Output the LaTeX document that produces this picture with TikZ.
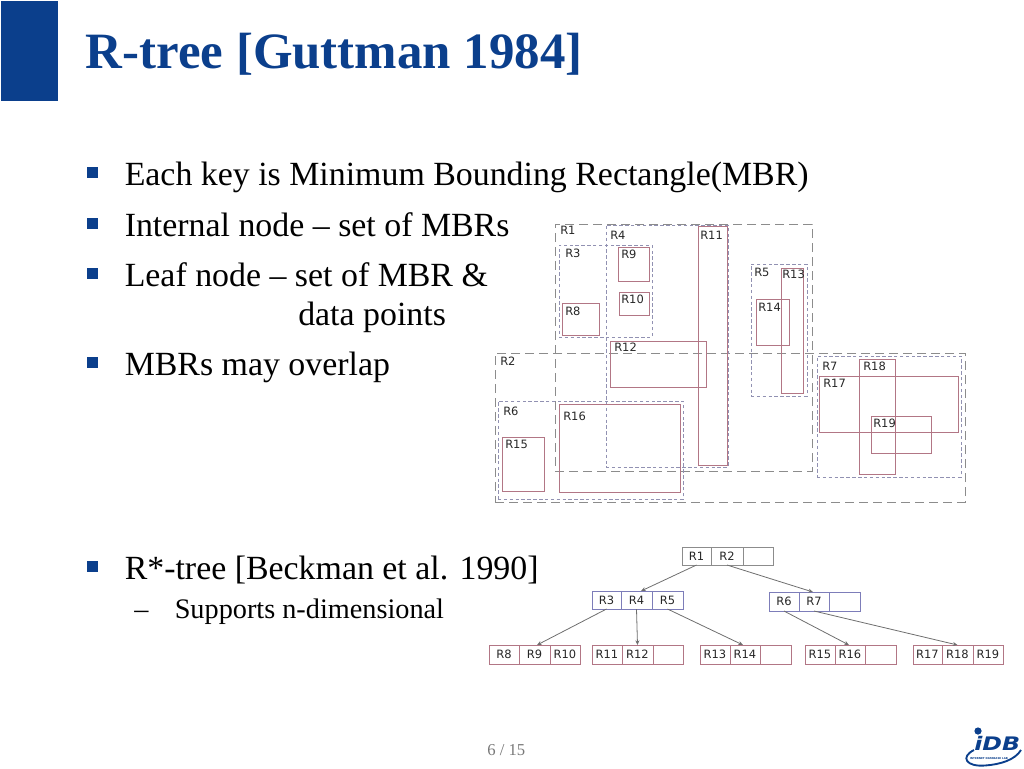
\documentclass[tikz,border=0pt]{standalone}
\usepackage{fontspec}
\setmainfont{Liberation Serif}
\newfontfamily\dvfont{DejaVu Sans}
\definecolor{idbblue}{RGB}{11,63,140}
\definecolor{greyline}{RGB}{140,140,140}
\definecolor{violetline}{RGB}{145,145,178}
\definecolor{redline}{RGB}{178,118,133}
\definecolor{blueline}{RGB}{125,125,185}
\definecolor{arrowgrey}{RGB}{110,110,110}
\definecolor{pagegrey}{RGB}{120,120,120}
\tikzset{
  titletext/.style={anchor=base west,inner sep=0pt,text=idbblue,font=\fontsize{38.2pt}{42pt}\selectfont\bfseries},
  bodytext/.style={anchor=base west,inner sep=0pt,font=\fontsize{25.4pt}{29pt}\selectfont},
  subtext/.style={anchor=base west,inner sep=0pt,font=\fontsize{21.2pt}{25pt}\selectfont},
  bulletmark/.style={fill=idbblue,draw=none,inner sep=0pt,minimum size=7.8pt},
  dashlong/.style={draw=greyline,line width=0.75pt,dash pattern=on 6.5pt off 4pt},
  dashshort/.style={draw=violetline,line width=0.75pt,dash pattern=on 2.6pt off 1.8pt},
  redbox/.style={draw=redline,line width=0.75pt},
  rlabel/.style={anchor=west,inner sep=0pt,font=\dvfont\fontsize{8.6pt}{10pt}\selectfont,text=black!85},
  rootcell/.style={draw=greyline,line width=0.75pt},
  midcell/.style={draw=blueline,line width=0.75pt},
  leafcell/.style={draw=redline,line width=0.75pt},
  treearrow/.style={draw=arrowgrey,line width=0.6pt,-{Stealth[length=3.5pt,width=3pt]}},
}
\usetikzlibrary{arrows.meta}
\begin{document}
\begin{tikzpicture}[x=0.75pt,y=-0.75pt]
\useasboundingbox (0,0) rectangle (1024,768);
% header
\node[fill=idbblue,draw=none,inner sep=0pt,outer sep=0pt,anchor=north west,minimum width=42.75pt,minimum height=75pt] (bar) at (1,1) {};
\node[titletext] (title) at (85.5,68) {R-tree [Guttman 1984]};
% bullets
\foreach \n/\y/\t in {a/185/{Each key is Minimum Bounding Rectangle(MBR)},b/236/{Internal node -- set of MBRs},c/286/{Leaf node -- set of MBR \&},e/375/{MBRs may overlap},f/579/{R*-tree [Beckman et al. 1990]}}{
  \node[bulletmark] (bul\n) at (92.5,\y-12.5) {};
  \node[bodytext] (txt\n) at (124.5,\y) {\t};
}
\node[bodytext] (txtd) at (298,325) {data points};
\node[subtext] (dash) at (134,618) {--};
\node[subtext] (txtg) at (174.5,618) {Supports n-dimensional};
% rectangles
\foreach \n/\s/\xa/\ya/\xb/\yb/\lx/\ly in {
  R1/dashlong/555/224/812/471/560/230,
  R2/dashlong/495/353/965/502/500/361,
  R3/dashshort/559/245/652/337/565/253,
  R4/dashshort/606/225/728/467/610/235,
  R5/dashshort/751/264/807/396/754/272,
  R6/dashshort/498/401/683/499/503/411,
  R7/dashshort/817/356/961/477/822/366,
  R8/redbox/562/303/599/335/565/311,
  R9/redbox/618/247/649/281/621/254,
  R10/redbox/619/292/649/315/621/299,
  R11/redbox/698/226/727/465/700/235,
  R12/redbox/610/341/706/387/614/347,
  R13/redbox/781/268/803/393/782/274,
  R14/redbox/756/299/789/345/758/307,
  R15/redbox/502/437/544/491/505/444,
  R16/redbox/559/404/680/492/563/416,
  R17/redbox/819/376/958/432/823/383,
  R18/redbox/859/359/895/474/863/366,
  R19/redbox/871/416/931/453/873/423}{
  \node[\s,inner sep=0pt,outer sep=0pt,anchor=north west,
        minimum width={(\xb-\xa)*0.75pt},minimum height={(\yb-\ya)*0.75pt}] (\n) at (\xa,\ya) {};
  \node[rlabel] (l\n) at (\lx,\ly) {\n};
}
% tree cells
\foreach \n/\s/\xa/\xb/\ya/\yb/\t in {
  R1/rootcell/682/711/547/565/R1, R2/rootcell/711/743/547/565/R2, ea/rootcell/743/773/547/565/,
  R3/midcell/592/621/591/609/R3, R4/midcell/621/652/591/609/R4, R5/midcell/652/683/591/609/R5,
  R6/midcell/769/799/592/611/R6, R7/midcell/799/829/592/611/R7, eb/midcell/829/860/592/611/,
  R8/leafcell/489/519/645/664/R8, R9/leafcell/519/550/645/664/R9, R10/leafcell/550/580/645/664/R10,
  R11/leafcell/592/622/645/664/R11, R12/leafcell/622/653/645/664/R12, ec/leafcell/653/683/645/664/,
  R13/leafcell/700/730/645/664/R13, R14/leafcell/730/760/645/664/R14, ed/leafcell/760/791/645/664/,
  R15/leafcell/805/835/645/664/R15, R16/leafcell/835/865/645/664/R16, ee/leafcell/865/896/645/664/,
  R17/leafcell/913/942/645/664/R17, R18/leafcell/942/973/645/664/R18, R19/leafcell/973/1003/645/664/R19}{
  \node[\s,inner sep=0pt,outer sep=0pt,anchor=north west,font=\dvfont\fontsize{8.6pt}{10pt}\selectfont,text=black!85,
        minimum width={(\xb-\xa)*0.75pt},minimum height={(\yb-\ya)*0.75pt}] (c\n) at (\xa,\ya) {\t};
}
% tree arrows
\draw[treearrow] (cR1.south) -- ([xshift=3.4pt]cR4.north);
\draw[treearrow] (cR2.south) -- ([xshift=-0.8pt]cR7.north);
\draw[treearrow] (cR3.south) -- ([xshift=1.9pt]cR9.north);
\draw[treearrow] (cR4.south) -- (cR12.north);
\draw[treearrow] (cR5.south) -- ([xshift=-1.5pt]cR14.north);
\draw[treearrow] (cR6.south) -- ([xshift=-0.8pt]cR16.north);
\draw[treearrow] (cR7.south) -- (cR18.north);
% page number
\node[anchor=base west,inner sep=0pt,text=pagegrey,font=\fontsize{12.5pt}{15pt}\selectfont] (page) at (487,755) {6 / 15};
% logo
\fill[idbblue] (978,731) circle (3.6);
\draw[idbblue,line width=1.4pt] (974,750) .. controls (960,757) and (966,767) .. (985,765.5) .. controls (1000,764.5) and (1015,760) .. (1021,750);
\node[anchor=base west,inner sep=0pt,text=idbblue,xscale=1.27,font=\dvfont\bfseries\itshape\fontsize{14pt}{15pt}\selectfont] (logo) at (974,750) {iDB};
\node[anchor=center,inner sep=0pt,text=idbblue,font=\dvfont\bfseries\fontsize{2pt}{3pt}\selectfont] (logosub) at (989,758.5) {INTERNET DATABASE LAB};
\end{tikzpicture}
\end{document}
